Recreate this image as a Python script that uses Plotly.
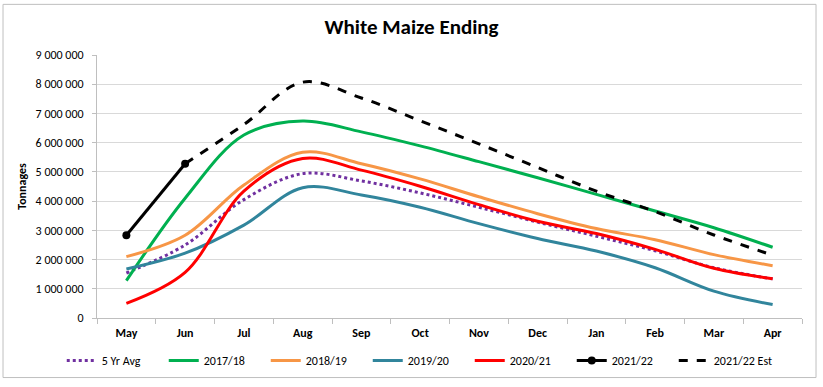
import plotly.graph_objects as go

months = ["May", "Jun", "Jul", "Aug", "Sep", "Oct", "Nov", "Dec", "Jan", "Feb", "Mar", "Apr"]
avg5 = [1.54e6, 2.50e6, 4.05e6, 4.94e6, 4.69e6, 4.28e6, 3.79e6, 3.28e6, 2.80e6, 2.30e6, 1.72e6, 1.34e6]
y2017 = [1.28e6, 4.10e6, 6.26e6, 6.74e6, 6.37e6, 5.89e6, 5.35e6, 4.80e6, 4.23e6, 3.66e6, 3.09e6, 2.42e6]
y2018 = [2.10e6, 2.83e6, 4.55e6, 5.67e6, 5.28e6, 4.76e6, 4.15e6, 3.57e6, 3.06e6, 2.68e6, 2.17e6, 1.79e6]
y2019 = [1.68e6, 2.22e6, 3.18e6, 4.46e6, 4.21e6, 3.79e6, 3.23e6, 2.72e6, 2.29e6, 1.72e6, 0.92e6, 0.46e6]
y2020 = [0.50e6, 1.56e6, 4.34e6, 5.46e6, 5.06e6, 4.51e6, 3.88e6, 3.31e6, 2.89e6, 2.35e6, 1.70e6, 1.34e6]
y2021 = [2.83e6, 5.28e6, None, None, None, None, None, None, None, None, None, None]
y2021_est = [None, 5.28e6, 6.62e6, 8.07e6, 7.53e6, 6.75e6, 5.96e6, 5.15e6, 4.34e6, 3.64e6, 2.84e6, 2.15e6]
y_ticks = [0, 1e6, 2e6, 3e6, 4e6, 5e6, 6e6, 7e6, 8e6, 9e6]

FONT = "Calibri, Carlito, 'Liberation Sans Narrow', 'Liberation Sans', Arial, sans-serif"

fig = go.Figure()

def add(name, y, color, dash="solid", width=3, mode="lines", marker=None):
    fig.add_trace(go.Scatter(
        x=months, y=y, name=name, mode=mode,
        line=dict(color=color, width=width, dash=dash, shape="spline", smoothing=1.0),
        marker=marker, connectgaps=False,
    ))

add("5 Yr Avg", avg5, "#7030A0", dash="dot", width=3)
add("2017/18", y2017, "#00B050")
add("2018/19", y2018, "#F79646")
add("2019/20", y2019, "#31859C")
add("2020/21", y2020, "#FF0000")
add("2021/22", y2021, "#000000", mode="lines+markers", marker=dict(size=8, color="#000000"))
add("2021/22 Est", y2021_est, "#000000", dash="dash")

fig.update_layout(
    width=823, height=387,
    margin=dict(l=97, r=21, t=55, b=67),
    paper_bgcolor="white", plot_bgcolor="white",
    separators=". ",
    font=dict(family=FONT, size=12, color="#000000"),
    title=dict(text="<b>White Maize Ending</b>", x=0.5, xanchor="center", y=0.93, yanchor="middle",
               font=dict(family=FONT, size=21, color="#000000")),
    showlegend=True,
    legend=dict(orientation="h", x=-0.05, xanchor="left", y=-0.162, yanchor="middle",
                entrywidth=57, entrywidthmode="pixels", font=dict(size=12, family=FONT),
                bgcolor="rgba(0,0,0,0)", itemwidth=30, tracegroupgap=0),
    xaxis=dict(
        type="category", range=[-0.5, 11.5], tickson="boundaries", ticks="outside", ticklen=5,
        tickcolor="#BFBFBF", showline=True, linecolor="#BFBFBF", linewidth=1, showgrid=False,
        tickfont=dict(family=FONT, size=12, color="#000000", weight="bold"), zeroline=False,
        automargin=False, ticklabelstandoff=4,
    ),
    yaxis=dict(
        range=[0, 9e6], tickvals=y_ticks, tickformat=",d", ticks="outside", ticklen=4,
        tickcolor="#BFBFBF", showline=True, linecolor="#BFBFBF", linewidth=1,
        showgrid=True, gridcolor="#D9D9D9", gridwidth=1, zeroline=False,
        tickfont=dict(family=FONT, size=12, color="#000000"), automargin=False, ticklabelstandoff=6,
        title=dict(text="<b>Tonnages</b>", font=dict(family=FONT, size=12, color="#000000"), standoff=6),
    ),
    shapes=[dict(type="rect", xref="paper", yref="paper", x0=-0.1333, x1=1.0199, y0=-0.2264, y1=1.1925,
                 line=dict(color="#BFBFBF", width=1), fillcolor="rgba(0,0,0,0)", layer="below")],
)

fig.write_html("out.html", config={"displayModeBar": False},
               post_script="document.body.style.margin='0px';")
